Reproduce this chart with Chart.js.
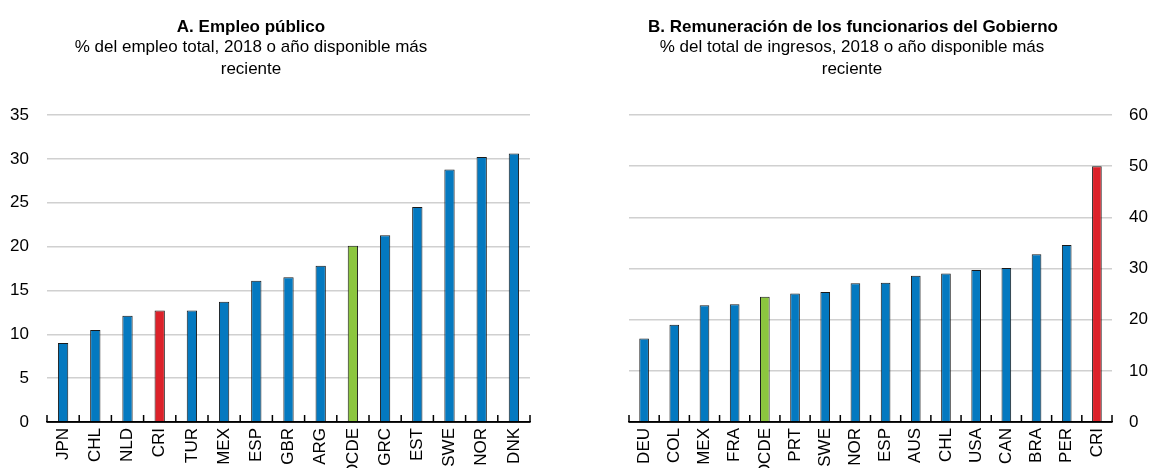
<!DOCTYPE html>
<html>
<head>
<meta charset="utf-8">
<script src="https://cdn.jsdelivr.net/npm/chart.js@4.4.1/dist/chart.umd.min.js"></script>
<style>
  body { margin: 0; background: #fff; }
  #wrap { position: relative; width: 1150px; height: 468px; overflow: hidden; font-family: "Liberation Sans", Arial, sans-serif; color: #000; }
  .panel { position: absolute; top: 0; width: 575px; height: 468px; }
  .ttl { position: absolute; text-align: center; font-size: 17px; line-height: 22px; white-space: nowrap; }
  .ttl b { font-weight: bold; }
</style>
</head>
<body>
<div id="wrap">
  <div class="panel" style="left:0"><canvas id="chartA" width="575" height="468"></canvas></div>
  <div class="panel" style="left:575px"><canvas id="chartB" width="575" height="468"></canvas></div>
  <div class="ttl" style="left:0; width:502px; top:16px;"><b>A. Empleo público</b></div>
  <div class="ttl" style="left:0; width:502px; top:36px;">% del empleo total, 2018 o año disponible más<br>reciente</div>
  <div class="ttl" style="left:648px; width:400px; top:16px;"><b>B. Remuneración de los funcionarios del Gobierno</b></div>
  <div class="ttl" style="left:652px; width:400px; top:36px;">% del total de ingresos, 2018 o año disponible más<br>reciente</div>
</div>
<script>
// Panel A: public employment, % of total employment
const catsA = ["JPN", "CHL", "NLD", "CRI", "TUR", "MEX", "ESP", "GBR", "ARG", "OCDE", "GRC", "EST", "SWE", "NOR", "DNK"];
const valsA = [9.0, 10.5, 12.1, 12.7, 12.7, 13.7, 16.1, 16.5, 17.8, 20.1, 21.3, 24.5, 28.8, 30.2, 30.6];
const ticksA = [0, 5, 10, 15, 20, 25, 30, 35];

// Panel B: compensation of government employees, % of total revenue
const catsB = ["DEU", "COL", "MEX", "FRA", "OCDE", "PRT", "SWE", "NOR", "ESP", "AUS", "CHL", "USA", "CAN", "BRA", "PER", "CRI"];
const valsB = [16.3, 19.0, 22.8, 23.0, 24.5, 25.1, 25.4, 27.1, 27.2, 28.6, 29.0, 29.7, 30.1, 32.8, 34.6, 50.0];
const ticksB = [0, 10, 20, 30, 40, 50, 60];

const BLUE = "#0479c0";
const GREEN = "#8cc63f";
const RED = "#dc222a";

const tickFont = { family: '"Liberation Sans", Arial, sans-serif', size: 17 };

function barColor(c) {
  if (c === "OCDE") return GREEN;
  if (c === "CRI") return RED;
  return BLUE;
}

// small upward tick marks between categories on the x axis
const upTicks = {
  id: "upTicks",
  afterDatasetsDraw(chart) {
    const x = chart.scales.x;
    const n = chart.data.labels.length;
    const ctx = chart.ctx;
    ctx.save();
    ctx.strokeStyle = "#000";
    ctx.lineWidth = 1.5;
    ctx.beginPath();
    for (let i = 0; i <= n; i++) {
      const px = x.left + i * (x.width / n);
      ctx.moveTo(px, x.top);
      ctx.lineTo(px, x.top - 7);
    }
    ctx.moveTo(x.left, x.top);
    ctx.lineTo(x.right, x.top);
    ctx.stroke();
    ctx.restore();
  }
};

function makeChart(id, cats, vals, ticks, side) {
  const yMax = ticks[ticks.length - 1];
  const step = ticks[1] - ticks[0];
  return new Chart(document.getElementById(id), {
    type: "bar",
    data: {
      labels: cats,
      datasets: [{
        data: vals,
        backgroundColor: cats.map(barColor),
        borderColor: "#1a1a1a",
        borderWidth: 1,
        barPercentage: 0.32,
        categoryPercentage: 1
      }]
    },
    options: {
      responsive: false,
      animation: false,
      layout: {
        padding: side === "left"
          ? { top: 115, right: 45, bottom: 0, left: 0 }
          : { top: 115, right: 0, bottom: 0, left: 54 }
      },
      plugins: { legend: { display: false }, tooltip: { enabled: false }, title: { display: false } },
      scales: {
        x: {
          grid: { display: false, drawTicks: false },
          border: { display: true, color: "#000", width: 1.5 },
          ticks: { color: "#000", font: tickFont, minRotation: 90, maxRotation: 90, autoSkip: false, padding: 6 },
          afterFit: s => { s.height = 46; }
        },
        y: {
          position: side,
          min: 0,
          max: yMax,
          grid: { color: "#d0d0d0", lineWidth: 1.5, drawTicks: false },
          border: { display: false },
          ticks: { color: "#000", font: tickFont, stepSize: step, padding: side === "left" ? 18 : 17 },
          afterFit: s => { s.width = side === "left" ? 47 : 38; }
        }
      }
    },
    plugins: [upTicks]
  });
}

makeChart("chartA", catsA, valsA, ticksA, "left");
makeChart("chartB", catsB, valsB, ticksB, "right");
</script>
</body>
</html>
